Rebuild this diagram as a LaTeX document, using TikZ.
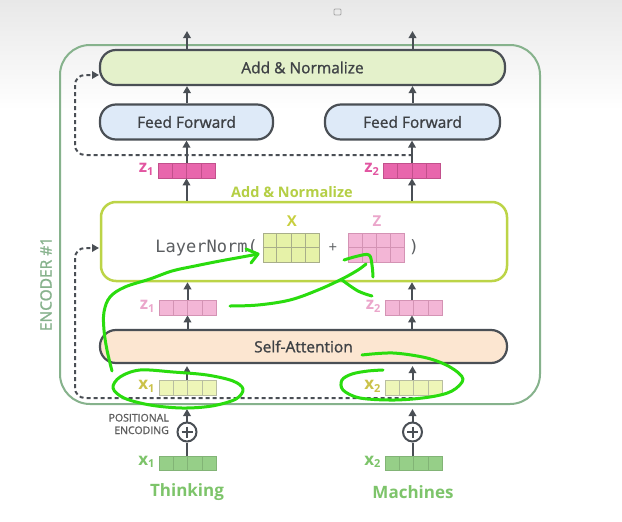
\documentclass[tikz,border=0pt]{standalone}
\usepackage{fontspec}
\setmainfont{Open Sans}
\newfontfamily\semib{Open Sans}[FakeBold=1.2]
\newfontfamily\monof{DejaVu Sans Mono}
\usetikzlibrary{arrows.meta,calc}
\definecolor{dkline}{HTML}{4A4F55}
\definecolor{txt}{HTML}{3E4145}
\definecolor{addfill}{HTML}{E4F1CB}
\definecolor{fffill}{HTML}{DEEAF8}
\definecolor{safill}{HTML}{FCE6D1}
\definecolor{encgreen}{HTML}{86B28C}
\definecolor{lnborder}{HTML}{BCD447}
\definecolor{midlbl}{HTML}{B5CF45}
\definecolor{zdark}{HTML}{E866AC}
\definecolor{zdarkline}{HTML}{C2508C}
\definecolor{zdarklbl}{HTML}{E255A1}
\definecolor{zlight}{HTML}{F3B6D6}
\definecolor{zlightline}{HTML}{D493B4}
\definecolor{zlightlbl}{HTML}{EBA6CB}
\definecolor{xfill}{HTML}{E6F2A8}
\definecolor{xline}{HTML}{A8AE8A}
\definecolor{xlbl}{HTML}{C8CF3F}
\definecolor{xin}{HTML}{EEF6B8}
\definecolor{xinlbl}{HTML}{CBC24A}
\definecolor{xgreen}{HTML}{96CF88}
\definecolor{xgreenline}{HTML}{82B476}
\definecolor{greenlbl}{HTML}{7DC46A}
\definecolor{pegray}{HTML}{5E5E5E}
\definecolor{hgreen}{HTML}{2ADC0E}
\newcommand\mygrid[2]{%
  \foreach \f in {0.25,0.5,0.75}{\draw[#2] ($(#1.south west)!\f!(#1.south east)$) -- ($(#1.north west)!\f!(#1.north east)$);}}
\newcommand\mymid[2]{\draw[#2] (#1.west) -- (#1.east);}
\newcommand\subl[2]{#1\raisebox{-2.5pt}{\fontsize{11}{11}\selectfont #2}}
\begin{document}
\begin{tikzpicture}[x=1pt,y=-1pt,
  pill/.style={draw=dkline, line width=2.2pt, rounded corners=16pt, text=txt, font=\semib\fontsize{15.5}{18}\selectfont},
  arr/.style={-{Triangle[length=7pt,width=7.5pt]}, line width=2pt, draw=dkline},
  res/.style={-{Triangle[length=7pt,width=7.5pt]}, line width=2pt, draw=dkline, dash pattern=on 4pt off 3pt, rounded corners=10pt},
  vec/.style={minimum width=57pt, minimum height=15pt, inner sep=0pt, line width=0.8pt},
  mat/.style={minimum width=56pt, minimum height=29pt, inner sep=0pt, line width=0.8pt},
  lbl/.style={font=\fontsize{17}{17}\selectfont\bfseries, anchor=east, inner sep=0pt},
  hand/.style={draw=hgreen, line width=3pt, line cap=round, line join=round}]
\useasboundingbox (0,0) rectangle (622,522);
\fill[white] (0,0) rectangle (622,522);
\shade[top color=black!9, bottom color=white] (0,0) rectangle (622,110);
\draw[gray!70, line width=0.8pt, rounded corners=1pt] (334,9) rectangle (341,15);
% encoder frame
\node[draw=encgreen, line width=2pt, rounded corners=30pt, minimum width=480pt, minimum height=359pt, inner sep=0pt] (encbox) at (300,224.5) {};
\node[rotate=90, text=encgreen, font=\semib\fontsize{15.5}{16}\selectfont] (enc) at (46,284) {ENCODER \#1};
% top blocks
\node[pill, fill=addfill, minimum width=405pt, minimum height=35pt] (addtop) at (302.5,67.5) {Add \& Normalize};
\node[pill, fill=fffill, minimum width=173pt, minimum height=35pt] (ffL) at (186.5,122) {Feed Forward};
\node[pill, fill=fffill, minimum width=175pt, minimum height=35pt] (ffR) at (412.5,122) {Feed Forward};
% z (dark)
\node[vec, fill=zdark, draw=zdarkline] (zL) at (186.5,170.5) {};
\node[vec, fill=zdark, draw=zdarkline] (zR) at (412,170.5) {};
\mygrid{zL}{zdarkline,line width=0.8pt}
\mygrid{zR}{zdarkline,line width=0.8pt}
\node[lbl, text=zdarklbl] (zLl) at ([xshift=-4pt,yshift=1pt]zL.west) {\subl{z}{1}};
\node[lbl, text=zdarklbl] (zRl) at ([xshift=-4pt,yshift=1pt]zR.west) {\subl{z}{2}};
\node[text=midlbl, font=\fontsize{14.5}{16}\selectfont\bfseries] (midlab) at (292,192) {Add \& Normalize};
% LayerNorm box
\node[draw=lnborder, line width=2.5pt, rounded corners=15pt, minimum width=406pt, minimum height=79pt, fill=white] (ln) at (304,241.5) {};
\node[anchor=east, inner sep=0pt, text=txt!85, font=\monof\fontsize{17}{18}\selectfont] (lnt) at (258,248) {LayerNorm(};
\node[mat, fill=xfill, draw=xline] (X) at (291,247.5) {};
\mygrid{X}{xline,line width=0.8pt}
\mymid{X}{xline,line width=0.8pt}
\node[text=xlbl, font=\fontsize{15}{15}\selectfont\bfseries] (Xl) at (292,221) {X};
\node[text=txt!85, font=\fontsize{15}{15}\selectfont] (plus) at (333,248) {+};
\node[mat, fill=zlight, draw=zlightline] (Z) at (376.5,247.5) {};
\mygrid{Z}{zlightline,line width=0.8pt}
\mymid{Z}{zlightline,line width=0.8pt}
\node[text=zlightlbl, font=\fontsize{15}{15}\selectfont\bfseries] (Zl) at (377,221) {Z};
\node[text=txt!85, font=\monof\fontsize{17}{18}\selectfont] (rp) at (414,247) {)};
% z (light)
\node[vec, fill=zlight, draw=zlightline] (zL2) at (187.5,307.5) {};
\node[vec, fill=zlight, draw=zlightline] (zR2) at (413.5,307.5) {};
\mygrid{zL2}{zlightline,line width=0.8pt}
\mygrid{zR2}{zlightline,line width=0.8pt}
\node[lbl, text=zlightlbl] (zL2l) at ([xshift=-4pt,yshift=1pt]zL2.west) {\subl{z}{1}};
\node[lbl, text=zlightlbl] (zR2l) at ([xshift=-4pt,yshift=1pt]zR2.west) {\subl{z}{2}};
% self attention
\node[pill, fill=safill, minimum width=407pt, minimum height=33pt] (sa) at (303.5,346.5) {Self-Attention};
% x inner
\node[vec, fill=xin, draw=xline!80] (xL) at (187.5,387.5) {};
\node[vec, fill=xin, draw=xline!80] (xR) at (413.5,387.5) {};
\mygrid{xL}{xline!80,line width=0.8pt}
\mygrid{xR}{xline!80,line width=0.8pt}
\node[lbl, text=xinlbl] (xLl) at ([xshift=-4pt,yshift=1pt]xL.west) {\subl{x}{1}};
\node[lbl, text=xinlbl] (xRl) at ([xshift=-4pt,yshift=1pt]xR.west) {\subl{x}{2}};
% positional encoding
\node[circle, draw=dkline, line width=2pt, minimum size=19pt, inner sep=0pt] (pL) at (187,432) {};
\node[circle, draw=dkline, line width=2pt, minimum size=19pt, inner sep=0pt] (pR) at (412.5,432) {};
\foreach \c in {pL,pR}{
  \draw[dkline, line width=2pt] ($(\c)+(0,-5.5)$) -- ($(\c)+(0,5.5)$);
  \draw[dkline, line width=2pt] ($(\c)+(-5.5,0)$) -- ($(\c)+(5.5,0)$);}
\node[align=right, anchor=east, inner sep=0pt, text=pegray, font=\semib\fontsize{10.5}{12.5}\selectfont] (pe) at (169,424) {POSITIONAL\\ENCODING};
\node[vec, fill=xgreen, draw=xgreenline, minimum height=14pt] (gL) at (187.5,463) {};
\node[vec, fill=xgreen, draw=xgreenline, minimum height=14pt] (gR) at (413.5,463) {};
\mygrid{gL}{xgreenline,line width=0.8pt}
\mygrid{gR}{xgreenline,line width=0.8pt}
\node[lbl, text=greenlbl] (gLl) at ([xshift=-4pt,yshift=1pt]gL.west) {\subl{x}{1}};
\node[lbl, text=greenlbl] (gRl) at ([xshift=-4pt,yshift=1pt]gR.west) {\subl{x}{2}};
\node[text=greenlbl, font=\fontsize{17}{19}\selectfont\bfseries] (w1) at (187,492) {Thinking};
\node[text=greenlbl, font=\fontsize{17}{19}\selectfont\bfseries] (w2) at (413,492) {Machines};
% coordinates
\coordinate (topL) at (187,31);
\coordinate (topR) at (412.5,31);
\coordinate (peL) at (187,409);
\coordinate (peR) at (412.5,409);
\coordinate (rt1) at (412.5,155);
\coordinate (rt2) at (75,155);
\coordinate (rt3) at (75,75);
\coordinate (rt4) at (99,75);
\coordinate (rb1) at (412.5,398);
\coordinate (rb2) at (75,398);
\coordinate (rb3) at (75,248);
\coordinate (rb4) at (99,248);
% residual dashed
\draw[res] (rt1) -- (rt2) -- (rt3) -- (rt4);
\draw[res] (rb1) -- (rb2) -- (rb3) -- (rb4);
% arrows left column
\draw[arr] (addtop.north -| topL) -- (topL);
\draw[arr] (ffL.north -| topL) -- (addtop.south -| topL);
\draw[arr] (zL.north) -- (ffL.south -| zL);
\draw[arr] (ln.north -| zL) -- (zL.south);
\draw[arr] (zL2.north) -- (ln.south -| zL2);
\draw[arr] (sa.north -| zL2) -- (zL2.south);
\draw[arr] (xL.north -| pL) -- ([yshift=-2pt]sa.south -| pL);
\draw[arr] (pL.north) -- (peL);
\draw[dkline, line width=2pt] (gL.north -| pL) -- (pL.south);
% arrows right column
\draw[arr] (addtop.north -| topR) -- (topR);
\draw[arr] (ffR.north) -- (addtop.south -| ffR);
\draw[arr] (zR.north) -- (ffR.south -| zR);
\draw[arr] (ln.north -| zR) -- (zR.south);
\draw[arr] (zR2.north -| zR) -- (ln.south -| zR);
\draw[arr] (sa.north -| zR) -- (zR2.south -| zR);
\draw[arr] (xR.north -| pR) -- ([yshift=-2pt]sa.south -| pR);
\draw[arr] (pR.north) -- (peR);
\draw[dkline, line width=2pt] (gR.north -| pR) -- (pR.south);
% handwritten annotations
\draw[hand] plot[smooth, tension=0.6] coordinates {(112,371) (107,350) (104,330) (104,312) (110,297) (125,287) (150,279) (172,271) (195,266) (220,261) (242,257) (258,254)};
\draw[hand] (246,249) -- (258,254) -- (251,263);
\draw[hand] plot[smooth, tension=0.6] coordinates {(230,306) (258,305) (290,300) (318,290) (342,279) (358,270) (366,264)};
\draw[hand] plot[smooth, tension=0.6] coordinates {(344,260) (358,256) (369,255) (372,265) (373,277)};
\draw[hand] plot[smooth, tension=0.6] coordinates {(342,280) (358,291) (372,296)};
\draw[hand] plot[smooth, tension=0.55] coordinates {(362,355) (393,353) (427,358) (450,367) (463,379) (452,391) (430,397) (395,400) (360,398) (343,390) (342,380) (352,374) (368,371) (383,370)};
\draw[hand] plot[smooth cycle, tension=0.55] coordinates {(140,370) (173,372) (207,375) (233,381) (243,389) (236,399) (212,406) (182,408) (150,405) (124,398) (113,388) (120,377)};
\end{tikzpicture}
\end{document}
